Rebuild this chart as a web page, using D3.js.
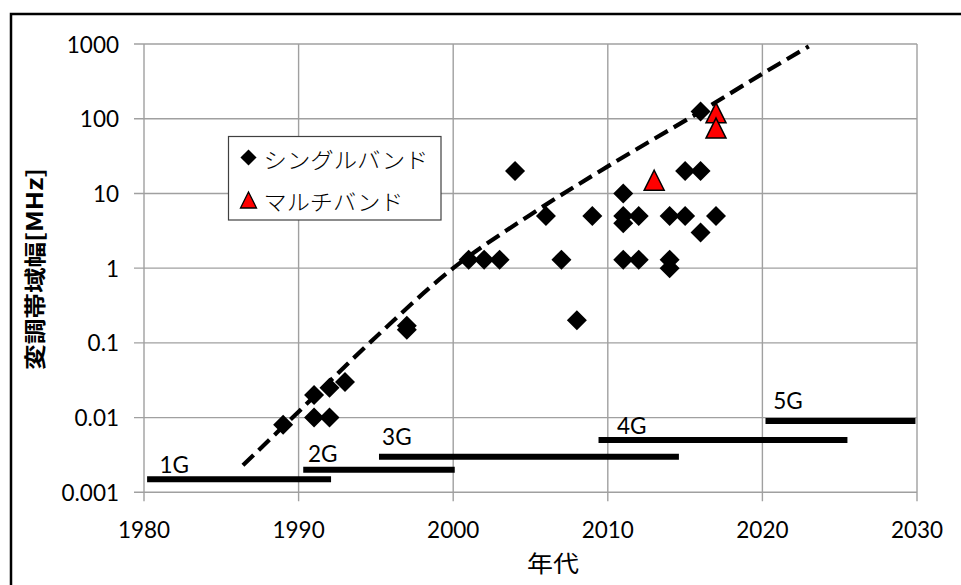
<!DOCTYPE html>
<html>
<head>
<meta charset="utf-8">
<script src="https://cdn.jsdelivr.net/npm/d3@7"></script>
<style>
  html, body { margin: 0; padding: 0; background: #fff; }
  svg { display: block; }
  .tick-label { font-family: Lato, "Open Sans", sans-serif; font-size: 22.5px; fill: #000; }
  .jp { font-family: "Noto Sans CJK JP", sans-serif; fill: #000; }
</style>
</head>
<body>
<svg id="chart" width="961" height="585"></svg>
<script>
// シングルバンド（年, 変調帯域幅 MHz）
const singleYears  = [1989, 1991, 1991, 1992, 1992, 1993, 1997, 1997, 2001, 2002, 2003, 2004, 2006, 2007, 2008, 2009,
                      2011, 2011, 2011, 2011, 2012, 2012, 2014, 2014, 2014, 2015, 2015, 2016, 2016, 2016, 2017];
const singleValues = [0.008, 0.02, 0.01, 0.025, 0.01, 0.03, 0.15, 0.17, 1.3, 1.3, 1.3, 20, 5, 1.3, 0.2, 5,
                      10, 5, 4, 1.3, 5, 1.3, 5, 1.3, 1.0, 20, 5, 125, 20, 3, 5];

// マルチバンド
const multiYears  = [2013, 2017, 2017];
const multiValues = [15, 120, 75];

// 傾向線（破線）
const trendYears  = [1986.4, 1990, 1995, 2000, 2005, 2010, 2016, 2020, 2023];
const trendValues = [0.0023, 0.012, 0.12, 1.0, 5.2, 23, 125, 400, 930];

// 世代ごとの期間と帯
const genNames  = ["1G", "2G", "3G", "4G", "5G"];
const genStart  = [1980.2, 1990.3, 1995.2, 2009.4, 2020.2];
const genEnd    = [1992.1, 2000.1, 2014.6, 2025.5, 2029.9];
const genLevel  = [0.0015, 0.002, 0.003, 0.005, 0.009];
const genLabelYear  = [1981.0, 1990.6, 1995.4, 2010.6, 2020.7];
const genLabelValue = [0.00182, 0.00253, 0.0043, 0.00605, 0.0131];

// 軸目盛
const xTicks = [1980, 1990, 2000, 2010, 2020, 2030];
const yTicks = [0.001, 0.01, 0.1, 1, 10, 100, 1000];
const yTickLabels = ["0.001", "0.01", "0.1", "1", "10", "100", "1000"];

const legendLabels = ["シングルバンド", "マルチバンド"];
const xTitle = "年代";
const yTitle = "変調帯域幅[MHz]";

const svg = d3.select("#chart");

const x = d3.scaleLinear().domain([1980, 2030]).range([144, 917]);
const y = d3.scaleLog().domain([0.001, 1000]).range([492.3, 44]);

// 外枠
svg.append("rect")
  .attr("x", 11).attr("y", 14).attr("width", 980).attr("height", 620)
  .attr("fill", "none").attr("stroke", "#000").attr("stroke-width", 2.5);

const gridColor = "#a0a0a0";

// 横グリッド（左へ目盛として延長）
svg.append("g").selectAll("line").data(yTicks).join("line")
  .attr("x1", 134).attr("x2", x(2030))
  .attr("y1", d => y(d)).attr("y2", d => y(d))
  .attr("stroke", gridColor).attr("stroke-width", 1.4);

// 縦グリッド（下へ目盛として延長）
svg.append("g").selectAll("line").data(xTicks).join("line")
  .attr("x1", d => x(d)).attr("x2", d => x(d))
  .attr("y1", y(1000)).attr("y2", y(0.001) + 9)
  .attr("stroke", gridColor).attr("stroke-width", 1.4);

// 目盛ラベル
svg.append("g").selectAll("text").data(yTicks).join("text")
  .attr("class", "tick-label")
  .attr("x", 119).attr("y", d => y(d))
  .attr("text-anchor", "end").attr("dominant-baseline", "central")
  .text((d, i) => yTickLabels[i]);

svg.append("g").selectAll("text").data(xTicks).join("text")
  .attr("class", "tick-label")
  .attr("x", d => x(d)).attr("y", 529)
  .attr("text-anchor", "middle").attr("dominant-baseline", "central")
  .text(d => d);

// 軸タイトル
svg.append("text").attr("class", "jp")
  .attr("transform", "translate(33,269) rotate(-90)")
  .attr("text-anchor", "middle").attr("dominant-baseline", "central")
  .attr("font-size", 22).attr("font-weight", 700)
  .attr("textLength", 202).attr("lengthAdjust", "spacingAndGlyphs")
  .text(yTitle);

svg.append("text").attr("class", "jp")
  .attr("x", 553).attr("y", 562)
  .attr("text-anchor", "middle").attr("dominant-baseline", "central")
  .attr("font-size", 23)
  .attr("textLength", 52).attr("lengthAdjust", "spacingAndGlyphs")
  .text(xTitle);

// 世代の帯
const gens = genNames.map((n, i) => ({ n, s: genStart[i], e: genEnd[i], v: genLevel[i], ly: genLabelYear[i], lv: genLabelValue[i] }));
svg.append("g").selectAll("line").data(gens).join("line")
  .attr("x1", d => x(d.s)).attr("x2", d => x(d.e))
  .attr("y1", d => y(d.v)).attr("y2", d => y(d.v))
  .attr("stroke", "#000").attr("stroke-width", 6);

svg.append("g").selectAll("text").data(gens).join("text")
  .attr("class", "tick-label")
  .attr("x", d => x(d.ly)).attr("y", d => y(d.lv))
  .text(d => d.n);

// 傾向線
const trend = trendYears.map((t, i) => [t, trendValues[i]]);
svg.append("path")
  .datum(trend)
  .attr("d", d3.line().x(d => x(d[0])).y(d => y(d[1])).curve(d3.curveCatmullRom.alpha(0.5)))
  .attr("fill", "none").attr("stroke", "#000")
  .attr("stroke-width", 4.2).attr("stroke-dasharray", "15,7");

// マーカー
const diamond = d3.symbol(d3.symbolSquare, 200)();
const triPath = (w, h) => `M0,${-h / 2}L${w / 2},${h / 2}L${-w / 2},${h / 2}Z`;

const singles = singleYears.map((t, i) => [t, singleValues[i]]);
svg.append("g").selectAll("path").data(singles).join("path")
  .attr("d", diamond)
  .attr("transform", d => `translate(${x(d[0])},${y(d[1])}) rotate(45)`)
  .attr("fill", "#000");

const multis = multiYears.map((t, i) => [t, multiValues[i]]);
svg.append("g").selectAll("path").data(multis).join("path")
  .attr("d", triPath(20, 20))
  .attr("transform", d => `translate(${x(d[0])},${y(d[1])})`)
  .attr("fill", "#ff0000").attr("stroke", "#000").attr("stroke-width", 1.5)
  .attr("stroke-linejoin", "miter");

// 凡例
const legend = svg.append("g");
legend.append("rect")
  .attr("x", 228.5).attr("y", 136.5).attr("width", 212.5).attr("height", 83.5)
  .attr("fill", "#fff").attr("stroke", "#404040").attr("stroke-width", 1.2);
legend.append("path")
  .attr("d", d3.symbol(d3.symbolSquare, 130)())
  .attr("transform", "translate(248.5,157.5) rotate(45)")
  .attr("fill", "#000");
legend.append("path")
  .attr("d", triPath(16, 16))
  .attr("transform", "translate(248.5,200)")
  .attr("fill", "#ff0000").attr("stroke", "#000").attr("stroke-width", 1.3);
legend.selectAll("text").data(legendLabels).join("text")
  .attr("class", "jp")
  .attr("x", 263.5).attr("y", (d, i) => i === 0 ? 157.5 : 200)
  .attr("dominant-baseline", "central")
  .attr("font-size", 22).attr("font-weight", 300)
  .attr("textLength", (d, i) => i === 0 ? 165 : 140)
  .attr("lengthAdjust", "spacingAndGlyphs")
  .text(d => d);
</script>
</body>
</html>
